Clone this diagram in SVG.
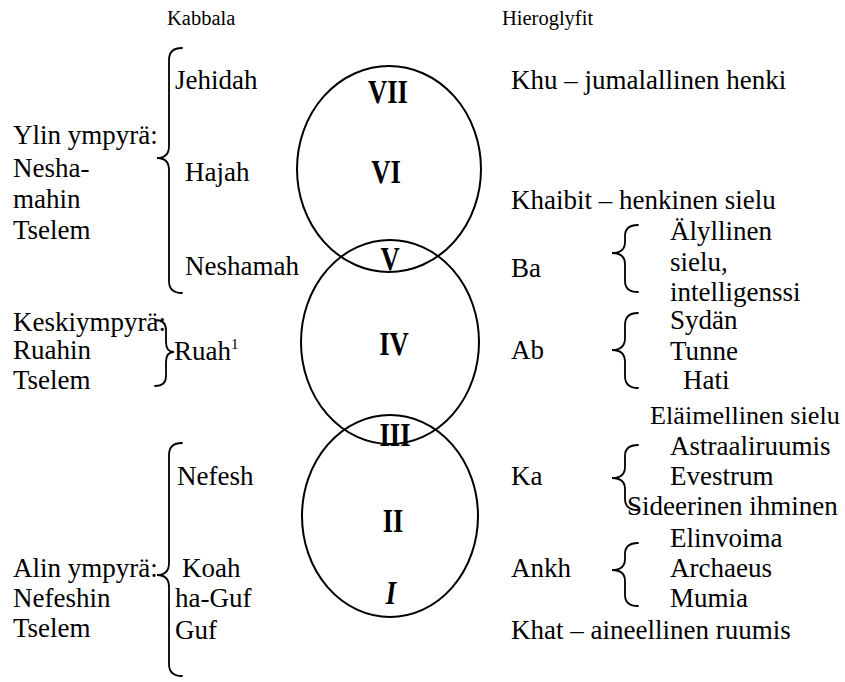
<svg xmlns="http://www.w3.org/2000/svg" width="845" height="682" viewBox="0 0 845 682">
<style>
text{font-family:"Liberation Serif","Times New Roman",serif;fill:#000;}
.t{font-size:27px;}
.h{font-size:20.5px;}
.r{font-size:28px;font-weight:bold;text-anchor:middle;}
.c{fill:none;stroke:#000;stroke-width:2;}
.b{fill:none;stroke:#000;stroke-width:1.8;stroke-linecap:round;}
</style>
<rect width="845" height="682" fill="#fff"/>
<g id="headers">
<text class="h" x="167" y="25">Kabbala</text>
<text class="h" x="502" y="25">Hieroglyfit</text>
</g>
<g id="circles">
<ellipse class="c" cx="389" cy="169" rx="92" ry="103"/>
<ellipse class="c" cx="390" cy="342" rx="89" ry="102"/>
<ellipse class="c" cx="390" cy="516" rx="88" ry="101"/>
<text class="r" transform="translate(388,103) scale(0.95,1.2)">VII</text>
<text class="r" transform="translate(386,183) scale(0.95,1.2)">VI</text>
<text class="r" transform="translate(390,270) scale(0.95,1.2)">V</text>
<text class="r" transform="translate(394,355) scale(0.95,1.2)">IV</text>
<text class="r" transform="translate(395,446) scale(0.95,1.2)">III</text>
<text class="r" transform="translate(393,532) scale(0.95,1.2)">II</text>
<text class="r" font-style="italic" transform="translate(391,604) scale(0.95,1.2)">I</text>
</g>
<g id="connectors">
<path class="b" d="M182,48 Q169,48 169,60 L169,146 Q169,158 157,158 Q169,158 169,170 L169,281 Q169,293 182,293"/>
<path class="b" d="M155,320 Q166,320 166,330 L166,342 Q166,352 174,352 Q166,352 166,362 L166,376 Q166,386 155,386"/>
<path class="b" d="M182,443 Q169,443 169,455 L169,563 Q169,575 157,575 Q169,575 169,587 L169,664 Q169,676 182,676"/>
<path class="b" d="M638,225 Q625,225 625,236 L625,242 Q625,253 612,253 Q625,253 625,264 L625,281 Q625,292 638,292"/>
<path class="b" d="M638,313 Q625,313 625,325 L625,338 Q625,350 612,350 Q625,350 625,362 L625,376 Q625,388 638,388"/>
<path class="b" d="M638,445 Q625,445 625,456 L625,467 Q625,478 612,478 Q625,478 625,489 L625,499 Q625,510 638,510"/>
<path class="b" d="M638,543 Q625,543 625,554 L625,559 Q625,570 612,570 Q625,570 625,581 L625,595 Q625,606 638,606"/>
</g>
<g id="kabbala-groups">
<text class="t" x="13" y="144">Ylin ympyrä:</text>
<text class="t" x="13" y="177">Nesha-</text>
<text class="t" x="13" y="208">mahin</text>
<text class="t" x="13" y="239">Tselem</text>
<text class="t" x="13" y="331">Keskiympyrä:</text>
<text class="t" x="13" y="359">Ruahin</text>
<text class="t" x="13" y="389">Tselem</text>
<text class="t" x="13" y="577">Alin ympyrä:</text>
<text class="t" x="13" y="607">Nefeshin</text>
<text class="t" x="13" y="637">Tselem</text>
</g>
<g id="kabbala-items">
<text class="t" x="175" y="89">Jehidah</text>
<text class="t" x="185" y="181">Hajah</text>
<text class="t" x="185" y="275">Neshamah</text>
<text class="t" x="174" y="360">Ruah<tspan font-size="15" dy="-11">1</tspan></text>
<text class="t" x="177" y="485">Nefesh</text>
<text class="t" x="182" y="577">Koah</text>
<text class="t" x="175" y="607">ha-Guf</text>
<text class="t" x="175" y="639">Guf</text>
</g>
<g id="hieroglyph-items">
<text class="t" x="511" y="89">Khu – jumalallinen henki</text>
<text class="t" x="511" y="209">Khaibit – henkinen sielu</text>
<text class="t" x="511" y="277">Ba</text>
<text class="t" x="511" y="359">Ab</text>
<text class="t" x="511" y="485">Ka</text>
<text class="t" x="511" y="577">Ankh</text>
<text class="t" x="511" y="639">Khat – aineellinen ruumis</text>
</g>
<g id="hieroglyph-details">
<text class="t" x="670" y="240">Älyllinen</text>
<text class="t" x="670" y="271">sielu,</text>
<text class="t" x="670" y="301">intelligenssi</text>
<text class="t" x="670" y="329">Sydän</text>
<text class="t" x="670" y="360">Tunne</text>
<text class="t" x="683" y="389">Hati</text>
<text x="650" y="424" style="font-size:26.2px">Eläimellinen sielu</text>
<text class="t" x="670" y="455">Astraaliruumis</text>
<text class="t" x="670" y="485">Evestrum</text>
<text class="t" x="627" y="515">Sideerinen ihminen</text>
<text class="t" x="670" y="547">Elinvoima</text>
<text class="t" x="670" y="577">Archaeus</text>
<text class="t" x="670" y="607">Mumia</text>
</g>
</svg>
